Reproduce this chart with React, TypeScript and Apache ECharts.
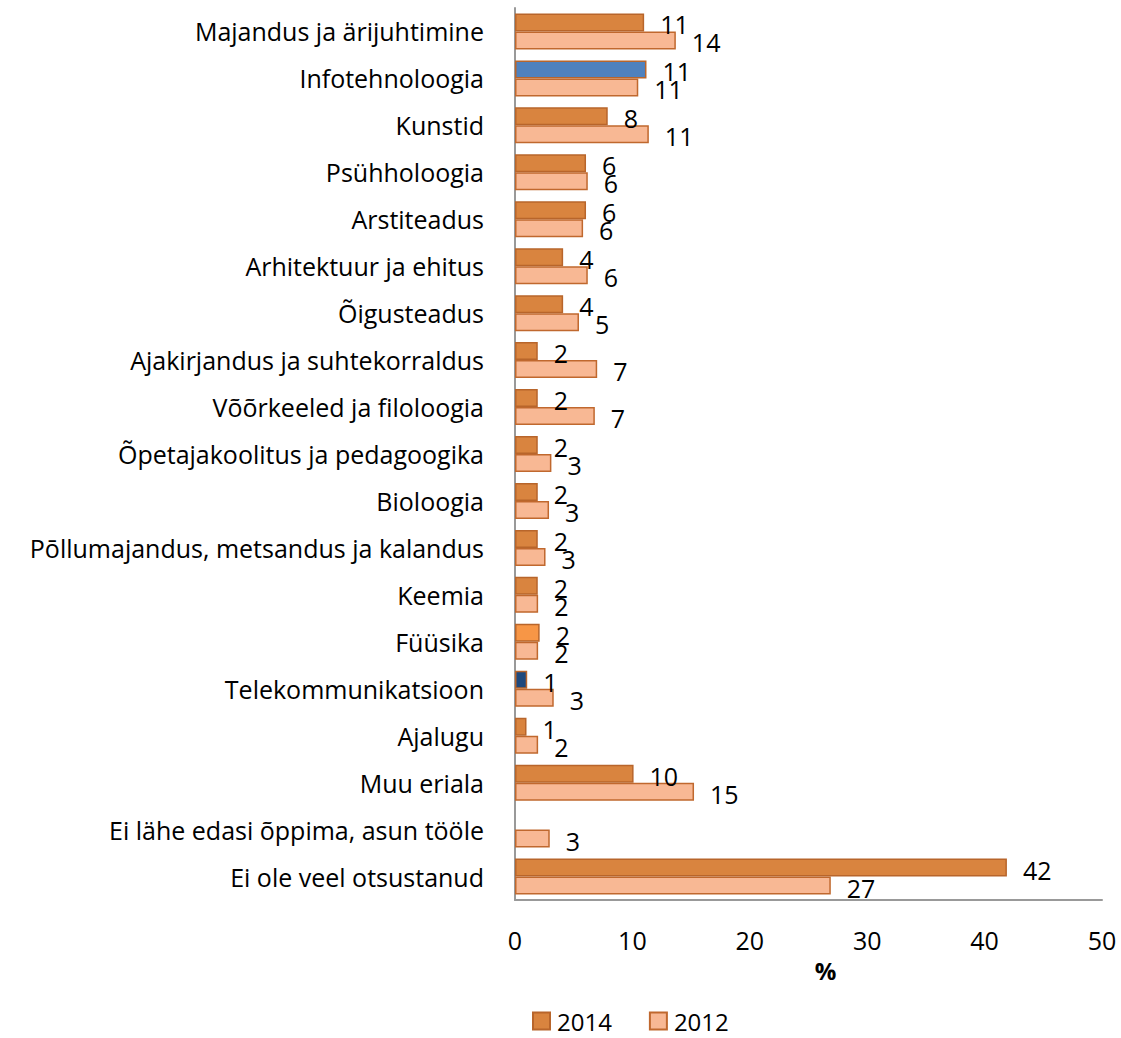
import React, { useEffect, useRef } from "react";
import * as echarts from "echarts";

const categories = [
  "Majandus ja ärijuhtimine",
  "Infotehnoloogia",
  "Kunstid",
  "Psühholoogia",
  "Arstiteadus",
  "Arhitektuur ja ehitus",
  "Õigusteadus",
  "Ajakirjandus ja suhtekorraldus",
  "Võõrkeeled ja filoloogia",
  "Õpetajakoolitus ja pedagoogika",
  "Bioloogia",
  "Pōllumajandus, metsandus ja kalandus",
  "Keemia",
  "Füüsika",
  "Telekommunikatsioon",
  "Ajalugu",
  "Muu eriala",
  "Ei lähe edasi õppima, asun tööle",
  "Ei ole veel otsustanud",
];

const values2014: (number | null)[] = [
  11.0, 11.2, 7.9, 6.05, 6.05, 4.1, 4.1, 1.94, 1.94, 1.94, 1.94, 1.94, 1.94, 2.1, 1.04, 0.98, 10.1, null, 41.9,
];
const values2012: number[] = [
  13.7, 10.5, 11.4, 6.2, 5.8, 6.2, 5.45, 7.0, 6.8, 3.1, 2.9, 2.6, 1.97, 1.97, 3.3, 1.97, 15.25, 2.96, 26.9,
];

const seriesNames = ["2014", "2012"];
const xTicks = { min: 0, max: 50, interval: 10 };

// special fills for single 2014 bars
const specialFill2014: Record<number, string> = {
  1: "#4F81BD",
  13: "#F79646",
  14: "#1F497D",
};

const FONT = "Open Sans";

export default function App() {
  const ref = useRef<HTMLDivElement>(null);
  useEffect(() => {
    if (!ref.current) return;
    const chart = echarts.init(ref.current, undefined, { renderer: "svg" });
    const labelCfg = {
      show: true,
      position: "right" as const,
      distance: 16,
      offset: [0, 2],
      color: "#000",
      fontFamily: FONT,
      fontSize: 25,
      formatter: (p: any) => (p.value == null || p.value === "-" ? "" : String(Math.round(p.value))),
    };
    chart.setOption({
      animation: false,
      textStyle: { fontFamily: FONT },
      grid: { left: 515, right: 19, top: 8, bottom: 138, containLabel: false },
      legend: {
        top: 1004,
        left: 527,
        itemWidth: 17,
        itemHeight: 17,
        itemGap: 37,
        icon: "rect",
        textStyle: { fontFamily: FONT, fontSize: 24, color: "#000", padding: [0, 0, 0, 2] },
        data: seriesNames,
      },
      xAxis: {
        type: "value",
        min: xTicks.min,
        max: xTicks.max,
        interval: xTicks.interval,
        name: "%",
        nameLocation: "middle",
        nameGap: 58,
        nameTextStyle: { fontFamily: FONT, fontSize: 24, fontWeight: "bold", color: "#000", padding: [0, 0, 0, 34] },
        axisLine: { show: true, lineStyle: { color: "#999", width: 2 } },
        axisTick: { show: false },
        splitLine: { show: false },
        axisLabel: { fontFamily: FONT, fontSize: 25, color: "#000", margin: 27 },
      },
      yAxis: {
        type: "category",
        inverse: true,
        data: categories,
        axisLine: { show: true, lineStyle: { color: "#999", width: 2 } },
        axisTick: { show: false },
        axisLabel: { fontFamily: FONT, fontSize: 25, color: "#000", margin: 31 },
      },
      series: [
        {
          name: seriesNames[0],
          type: "bar",
          barWidth: 18,
          barGap: "0%",
          itemStyle: { color: "#D9843F", borderColor: "#B8652B", borderWidth: 1.5 },
          label: labelCfg,
          data: values2014.map((v, i) =>
            v == null
              ? "-"
              : specialFill2014[i]
              ? { value: v, itemStyle: { color: specialFill2014[i] } }
              : v
          ),
        },
        {
          name: seriesNames[1],
          type: "bar",
          barWidth: 18,
          barGap: "0%",
          itemStyle: { color: "#F8B894", borderColor: "#C0682E", borderWidth: 1.5 },
          label: labelCfg,
          data: values2012,
        },
      ],
    });
    return () => chart.dispose();
  }, []);
  return <div ref={ref} style={{ position: "fixed", left: 0, top: 0, width: 1121, height: 1038, background: "#fff" }} />;
}
